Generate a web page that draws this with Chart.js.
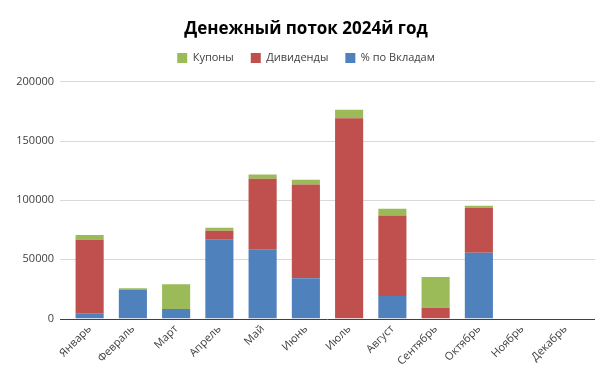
<!DOCTYPE html>
<html><head><meta charset="utf-8">
<script src="https://cdn.jsdelivr.net/npm/chart.js@4/dist/chart.umd.min.js"></script>
<style>html,body{margin:0;padding:0;background:#fff}#w{width:612px;height:381px}</style>
</head><body><div id="w"><canvas id="c" width="612" height="381"></canvas></div>
<script>
const months = ['Январь','Февраль','Март','Апрель','Май','Июнь','Июль','Август','Сентябрь','Октябрь','Ноябрь','Декабрь'];
const deposits = [4000, 24000, 8000, 66500, 58000, 34000, 0, 19000, 0, 55500, 0, 0];
const dividends = [62500, 0, 0, 7500, 60000, 79000, 169000, 68000, 9000, 38000, 0, 0];
const coupons = [4000, 1500, 21000, 2500, 3500, 4000, 7000, 5500, 26000, 1700, 0, 0];
const yTicks = [0, 50000, 100000, 150000, 200000];

const FONT = "'Open Sans', sans-serif";
const gridPlugin = {
  id: 'excelGrid',
  beforeInit(chart) {
    const lg = chart.legend;
    if (lg) {
      const orig = lg.fit;
      lg.fit = function () { orig.call(this); this.height += 8; };
    }
  },
  beforeDatasetsDraw(chart) {
    const {ctx, chartArea: a, scales: {y}} = chart;
    ctx.save();
    ctx.strokeStyle = '#d9d9d9'; ctx.lineWidth = 1;
    yTicks.forEach(v => {
      if (v === 0) return;
      const py = Math.round(y.getPixelForValue(v)) + 0.5;
      ctx.beginPath(); ctx.moveTo(a.left - 8, py); ctx.lineTo(a.right + 8, py); ctx.stroke();
    });
    ctx.restore();
  },
  afterDatasetsDraw(chart) {
    const {ctx, chartArea: a, scales: {y}} = chart;
    ctx.save();
    ctx.strokeStyle = '#404040'; ctx.lineWidth = 1;
    const py = Math.round(y.getPixelForValue(0)) + 0.5;
    ctx.beginPath(); ctx.moveTo(a.left - 8, py); ctx.lineTo(a.right + 8, py); ctx.stroke();
    ctx.restore();
  }
};

new Chart(document.getElementById('c'), {
  type: 'bar',
  data: {
    labels: months,
    datasets: [
      {label: '% по Вкладам', data: deposits, backgroundColor: '#4F81BD'},
      {label: 'Дивиденды', data: dividends, backgroundColor: '#C0504D'},
      {label: 'Купоны', data: coupons, backgroundColor: '#9BBB59'}
    ]
  },
  options: {
    responsive: false,
    animation: false,
    layout: {padding: {left: 0, right: 0, top: 14, bottom: 9}},
    datasets: {bar: {barPercentage: 0.65, categoryPercentage: 1}},
    plugins: {
      title: {display: true, text: 'Денежный поток 2024й год', color: '#000',
        font: {family: FONT, size: 17, weight: 'bold'}, padding: {top: 5, bottom: -4}},
      legend: {reverse: true, labels: {boxWidth: 10, boxHeight: 10, padding: 17, color: '#404040',
        font: {family: FONT, size: 11}}},
      tooltip: {enabled: false}
    },
    scales: {
      x: {stacked: true, grid: {display: false, drawTicks: false}, border: {display: false},
        ticks: {minRotation: 45, maxRotation: 45, color: '#404040', font: {family: FONT, size: 11}, padding: 4}},
      y: {stacked: true, min: 0, max: 200000, grid: {display: false, drawTicks: false}, border: {display: false},
        afterFit: s => { s.width = 68; },
        afterBuildTicks: s => { s.ticks = yTicks.map(v => ({value: v})); },
        ticks: {padding: 14, color: '#404040', font: {family: FONT, size: 11}, callback: v => String(v)}},
      yr: {position: 'right', min: 0, max: 200000, grid: {display: false, drawTicks: false}, border: {display: false},
        ticks: {display: false}, afterFit: s => { s.width = 25; }}
    }
  },
  plugins: [gridPlugin]
});
</script></body></html>
